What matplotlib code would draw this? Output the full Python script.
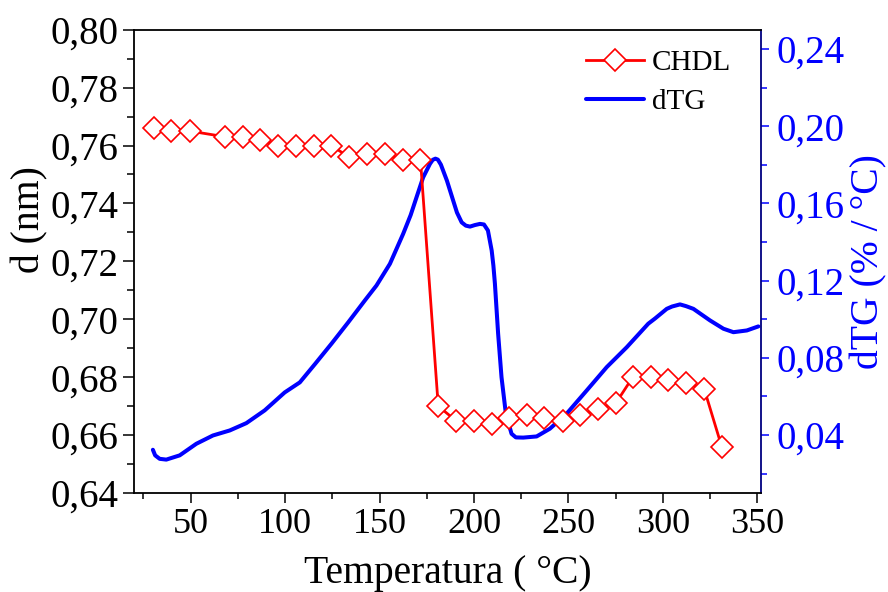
import matplotlib
matplotlib.use("Agg")
import matplotlib.pyplot as plt
from matplotlib.ticker import FixedLocator, MultipleLocator, FuncFormatter

plt.rcParams['font.family'] = ['Liberation Serif', 'DejaVu Serif']
plt.rcParams['mathtext.fontset'] = 'stix'

# CHDL basal spacing data
chdl_T = [30.4, 39.8, 49.5, 68.4, 77.7, 86.9, 96.5, 106.0, 115.2, 124.4, 133.9,
          143.4, 152.8, 162.2, 171.7, 181.1, 190.4, 200.0, 209.4, 218.7, 227.9,
          237.2, 247.0, 256.1, 265.5, 275.1, 284.1, 293.6, 303.0, 312.3, 321.9, 331.2]
chdl_d = [0.766, 0.765, 0.765, 0.763, 0.763, 0.762, 0.760, 0.760, 0.760, 0.760, 0.756,
          0.757, 0.757, 0.755, 0.755, 0.670, 0.665, 0.665, 0.664, 0.666, 0.667,
          0.666, 0.665, 0.667, 0.669, 0.671, 0.680, 0.680, 0.679, 0.678, 0.676, 0.656]

# dTG curve data
dtg_T = [30.0, 31.2, 33.6, 37.1, 44.2, 53.0, 61.8, 70.7, 79.5, 89.2, 99.8, 107.8,
         116.0, 124.7, 133.5, 142.2, 148.4, 155.5, 162.5, 166.5, 169.6, 173.1, 176.7,
         178.2, 179.6, 180.9, 182.5, 185.7, 189.0, 191.0, 193.5, 195.7, 197.9, 200.5,
         203.2, 205.3, 207.4, 209.4, 210.3, 211.1, 212.8, 214.6, 216.9, 217.9, 219.9,
         222.2, 226.1, 233.2, 240.2, 249.1, 259.7, 270.3, 280.9, 292.3, 295.9, 302.1,
         304.9, 309.1, 312.3, 316.2, 325.0, 332.1, 337.4, 344.5, 350.6]
dtg_v = [0.0324, 0.0295, 0.0277, 0.0273, 0.0295, 0.0355, 0.0398, 0.0424, 0.0462,
         0.0528, 0.0621, 0.0673, 0.0770, 0.0875, 0.0985, 0.1097, 0.1175, 0.1287,
         0.1442, 0.1540, 0.1632, 0.1735, 0.1805, 0.1826, 0.1832, 0.1827, 0.1801,
         0.1718, 0.1615, 0.1553, 0.1502, 0.1485, 0.1480, 0.1488, 0.1494, 0.1491,
         0.1460, 0.1356, 0.1278, 0.1185, 0.0926, 0.0700, 0.0511, 0.0476, 0.0407,
         0.0388, 0.0387, 0.0393, 0.0433, 0.0511, 0.0631, 0.0752, 0.0855, 0.0977,
         0.1004, 0.1054, 0.1066, 0.1077, 0.1068, 0.1054, 0.0994, 0.0951, 0.0933,
         0.0942, 0.0963]

x_ticks = [50, 100, 150, 200, 250, 300, 350]
d_ticks = [0.64, 0.66, 0.68, 0.70, 0.72, 0.74, 0.76, 0.78, 0.80]
dtg_ticks = [0.04, 0.08, 0.12, 0.16, 0.20, 0.24]

BLUE = '#0000FF'
NAVY = '#000080'

fig = plt.figure(figsize=(8.88, 5.92), dpi=100)
ax = fig.add_axes([134/888, 1 - 493/592, (761 - 134)/888, (493 - 29.7)/592])
ax2 = ax.twinx()

l2, = ax2.plot(dtg_T, dtg_v, color=BLUE, lw=2.9, solid_capstyle='round',
               solid_joinstyle='round', label='dTG')
l1, = ax.plot(chdl_T, chdl_d, color='red', lw=2.0, marker='D', ms=11.5,
              mfc='white', mec='red', mew=1.2, label='CHDL')

ax.set_zorder(ax2.get_zorder() + 1)
ax.patch.set_visible(False)

ax.set_xlim(20, 352)
ax.set_ylim(0.64, 0.80)
ax2.set_ylim(0.01, 0.25)

ax.xaxis.set_major_locator(FixedLocator(x_ticks))
ax.xaxis.set_minor_locator(MultipleLocator(25))
ax.yaxis.set_major_locator(FixedLocator(d_ticks))
ax.yaxis.set_minor_locator(MultipleLocator(0.01))
ax2.yaxis.set_major_locator(FixedLocator(dtg_ticks))
ax2.yaxis.set_minor_locator(MultipleLocator(0.02))

ax.yaxis.set_major_formatter(FuncFormatter(lambda v, p: f"{v:.2f}".replace('.', ',')))
ax2.yaxis.set_major_formatter(FuncFormatter(lambda v, p: f"{v:.2f}".replace('.', ',')))
ax.xaxis.set_major_formatter(FuncFormatter(lambda v, p: f"{v:.0f}"))

for s in ['left', 'bottom', 'top']:
    ax.spines[s].set_linewidth(1.3)
    ax.spines[s].set_color('black')
ax.spines['right'].set_visible(False)
ax2.spines['right'].set_color(NAVY)
ax2.spines['right'].set_linewidth(1.3)
for s in ['left', 'bottom', 'top']:
    ax2.spines[s].set_visible(False)

ax.tick_params(axis='x', which='major', direction='out', length=7, width=1.1,
               labelsize=26, pad=4, top=False)
ax.tick_params(axis='x', which='minor', direction='out', length=4, width=1.1, top=False)
ax.tick_params(axis='y', which='major', direction='out', length=8, width=1.1,
               labelsize=28, pad=3, right=False)
ax.tick_params(axis='y', which='minor', direction='out', length=5, width=1.1, right=False)
ax2.tick_params(axis='y', which='major', direction='out', length=6, width=1.1,
                labelsize=28, pad=5, colors=BLUE)
ax2.tick_params(axis='y', which='minor', direction='out', length=4, width=1.1, colors=BLUE)

ax.set_xlabel('Temperatura ( °C)', fontsize=28.5, labelpad=10)
ax.set_ylabel('d (nm)', fontsize=28.5, labelpad=2, y=0.591)
ax2.set_ylabel('dTG (% / °C)', fontsize=28.5, color=BLUE, labelpad=4)

ax.legend([l1, l2], ['CHDL', 'dTG'], loc='upper left',
          bbox_to_anchor=(586/888, 1 - 50/592), bbox_transform=fig.transFigure,
          frameon=False, fontsize=21, numpoints=1, handlelength=2.0,
          handletextpad=0.25, labelspacing=0.42, borderpad=0, borderaxespad=0)

fig.savefig('out.png', dpi=100)
